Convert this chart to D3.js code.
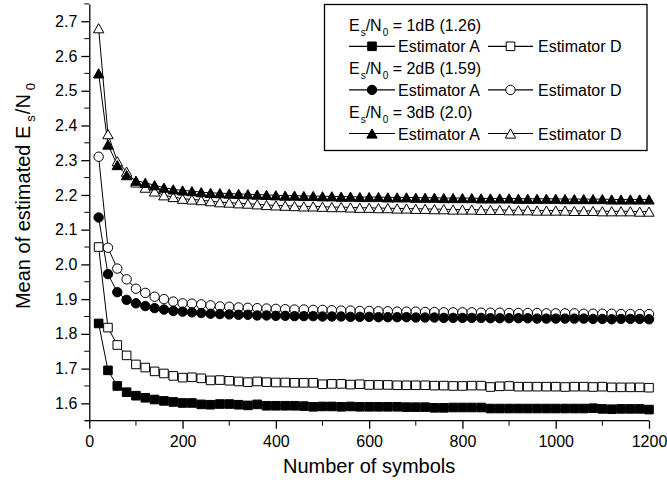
<!DOCTYPE html>
<html>
<head>
<meta charset="utf-8">
<script src="https://cdn.jsdelivr.net/npm/d3@7/dist/d3.min.js"></script>
<style>
  html, body { margin: 0; padding: 0; background: #fff; }
  svg { display: block; font-family: "Liberation Sans", Arial, sans-serif; }
</style>
</head>
<body>
<svg id="chart" width="667" height="492"></svg>
<script>
// ---- data ----
const symbols = [20,40,60,80,100,120,140,160,180,200,220,240,260,280,300,320,340,360,380,400,
  420,440,460,480,500,520,540,560,580,600,620,640,660,680,700,720,740,760,780,800,
  820,840,860,880,900,920,940,960,980,1000,1020,1040,1060,1080,1100,1120,1140,1160,1180,1200];

const estA_1dB = [1.830,1.695,1.650,1.632,1.622,1.616,1.611,1.607,1.604,1.601,
  1.601,1.597,1.596,1.598,1.598,1.596,1.594,1.597,1.593,1.593,
  1.593,1.593,1.592,1.590,1.591,1.591,1.590,1.591,1.590,1.590,
  1.590,1.590,1.590,1.589,1.589,1.589,1.587,1.587,1.588,1.588,
  1.588,1.588,1.585,1.585,1.585,1.585,1.585,1.585,1.585,1.585,
  1.585,1.585,1.585,1.586,1.584,1.583,1.584,1.584,1.584,1.582];
const estD_1dB = [2.050,1.818,1.768,1.738,1.712,1.703,1.692,1.686,1.679,1.674,
  1.675,1.672,1.666,1.667,1.665,1.663,1.661,1.663,1.661,1.660,
  1.660,1.659,1.659,1.659,1.655,1.656,1.656,1.654,1.655,1.653,
  1.653,1.653,1.652,1.652,1.652,1.652,1.651,1.651,1.650,1.650,
  1.651,1.651,1.647,1.649,1.650,1.648,1.648,1.648,1.648,1.648,
  1.647,1.648,1.648,1.647,1.648,1.646,1.646,1.646,1.646,1.645];
const estA_2dB = [2.135,1.972,1.920,1.898,1.888,1.880,1.874,1.870,1.866,1.864,
  1.862,1.860,1.858,1.857,1.856,1.855,1.855,1.853,1.853,1.852,
  1.852,1.851,1.851,1.851,1.850,1.850,1.850,1.849,1.849,1.849,
  1.848,1.848,1.848,1.848,1.847,1.847,1.847,1.846,1.846,1.846,
  1.846,1.846,1.845,1.845,1.845,1.845,1.845,1.844,1.844,1.844,
  1.844,1.844,1.844,1.843,1.843,1.842,1.843,1.843,1.843,1.842];
const estD_2dB = [2.310,2.048,1.988,1.957,1.930,1.918,1.907,1.900,1.893,1.888,
  1.887,1.885,1.882,1.879,1.878,1.876,1.875,1.874,1.873,1.872,
  1.871,1.870,1.870,1.869,1.869,1.868,1.867,1.867,1.866,1.866,
  1.865,1.865,1.864,1.864,1.864,1.863,1.863,1.862,1.862,1.862,
  1.862,1.861,1.861,1.861,1.860,1.860,1.860,1.860,1.859,1.859,
  1.859,1.859,1.858,1.858,1.858,1.858,1.857,1.857,1.857,1.857];
const estA_3dB = [2.550,2.345,2.286,2.257,2.241,2.235,2.228,2.221,2.216,2.213,
  2.211,2.208,2.206,2.205,2.204,2.203,2.202,2.201,2.200,2.199,
  2.198,2.198,2.197,2.197,2.196,2.196,2.195,2.195,2.194,2.194,
  2.194,2.193,2.193,2.193,2.192,2.192,2.192,2.191,2.191,2.191,
  2.191,2.190,2.190,2.190,2.190,2.189,2.189,2.189,2.189,2.189,
  2.188,2.188,2.188,2.188,2.188,2.187,2.187,2.187,2.187,2.187];
const estD_3dB = [2.680,2.375,2.297,2.267,2.236,2.221,2.210,2.199,2.194,2.189,
  2.187,2.185,2.182,2.179,2.178,2.176,2.175,2.173,2.171,2.170,
  2.169,2.168,2.167,2.167,2.166,2.165,2.165,2.164,2.163,2.163,
  2.162,2.162,2.161,2.161,2.160,2.160,2.159,2.159,2.158,2.158,
  2.158,2.157,2.157,2.157,2.156,2.156,2.156,2.155,2.155,2.155,
  2.155,2.154,2.154,2.154,2.153,2.153,2.153,2.153,2.152,2.152];

const xTicks = [0,200,400,600,800,1000,1200];
const xMinorTicks = [100,300,500,700,900,1100];
const yTicks = [1.6,1.7,1.8,1.9,2.0,2.1,2.2,2.3,2.4,2.5,2.6,2.7];
const yMinorTicks = [1.55,1.65,1.75,1.85,1.95,2.05,2.15,2.25,2.35,2.45,2.55,2.65,2.75];

const legendGroups = ["1dB (1.26)", "2dB (1.59)", "3dB (2.0)"];
const legendNames = ["Estimator A", "Estimator D"];

// ---- series table ----
const series = [
  {name:"D1", values: estD_1dB, shape:"square",   filled:false},
  {name:"A1", values: estA_1dB, shape:"square",   filled:true},
  {name:"D2", values: estD_2dB, shape:"circle",   filled:false},
  {name:"A2", values: estA_2dB, shape:"circle",   filled:true},
  {name:"D3", values: estD_3dB, shape:"triangle", filled:false},
  {name:"A3", values: estA_3dB, shape:"triangle", filled:true}
];

// ---- layout ----
const svg = d3.select("#chart");
const x = d3.scaleLinear().domain([0, 1200]).range([89.3, 649]);
const y = d3.scaleLinear().domain([1.55, 2.75]).range([420.7, 3.9]);

function markerPath(shape) {
  if (shape === "square") { const s = 4.3; return `M${-s},${-s}H${s}V${s}H${-s}Z`; }
  if (shape === "circle") { const r = 4.7; return `M${r},0A${r},${r} 0 1,1 ${-r},0A${r},${r} 0 1,1 ${r},0Z`; }
  const w = 5.2, h = 4.6; return `M0,${-h}L${w},${h}L${-w},${h}Z`;
}

// ---- axes ----
const axisFont = 16;
const gx = svg.append("g").attr("transform", `translate(0,${y(1.55)})`);
gx.call(d3.axisBottom(x).tickValues(xTicks).tickSize(8).tickPadding(7).tickSizeOuter(0).tickFormat(d3.format("d")));
gx.append("g").selectAll("line").data(xMinorTicks).join("line")
  .attr("x1", d => x(d)).attr("x2", d => x(d)).attr("y1", 0).attr("y2", 5)
  .attr("stroke", "#000");
const gy = svg.append("g").attr("transform", `translate(${x(0)},0)`);
gy.call(d3.axisLeft(y).tickValues(yTicks).tickSize(8).tickPadding(4).tickSizeOuter(0).tickFormat(d3.format(".1f")));
gy.append("g").selectAll("line").data(yMinorTicks).join("line")
  .attr("y1", d => y(d)).attr("y2", d => y(d)).attr("x1", 0).attr("x2", -5)
  .attr("stroke", "#000");
[gx, gy].forEach(g => {
  g.select(".domain").attr("stroke", "#000").attr("stroke-width", 1.3);
  g.selectAll(".tick line").attr("stroke", "#000").attr("stroke-width", 1.3);
  g.selectAll("text").attr("font-size", axisFont).attr("fill", "#000")
    .attr("font-family", '"Liberation Sans", Arial, sans-serif');
});
gx.select(".domain").attr("d", `M${x(0)-4},0H${x(1200)}`);

// ---- axis titles ----
svg.append("text").attr("x", (x(0) + x(1200)) / 2).attr("y", 473)
  .attr("text-anchor", "middle").attr("font-size", 20).text("Number of symbols");

const yt = svg.append("text").attr("transform", "translate(30,196) rotate(-90)")
  .attr("text-anchor", "middle").attr("font-size", 20);
yt.append("tspan").text("Mean of estimated E");
yt.append("tspan").attr("font-size", 13).attr("dy", 5).attr("dx", 4).text("s");
yt.append("tspan").attr("dy", -5).attr("dx", 1).text("/N");
yt.append("tspan").attr("font-size", 13).attr("dy", 5).attr("dx", 4).text("0");

// ---- series ----
const line = d3.line().x((d, i) => x(symbols[i])).y(d => y(d));
const plot = svg.append("g");
series.forEach(s => {
  plot.append("path").datum(s.values).attr("d", line)
    .attr("fill", "none").attr("stroke", "#000").attr("stroke-width", 1);
});
series.forEach(s => {
  plot.append("g").selectAll("path").data(s.values).join("path")
    .attr("d", markerPath(s.shape))
    .attr("transform", (d, i) => `translate(${x(symbols[i])},${y(d)})`)
    .attr("fill", s.filled ? "#000" : "#fff")
    .attr("stroke", "#000").attr("stroke-width", 1);
});

// ---- legend ----
const lg = svg.append("g");
lg.append("rect").attr("x", 324.5).attr("y", 4.5).attr("width", 322.5).attr("height", 146)
  .attr("fill", "#fff").attr("stroke", "#000").attr("stroke-width", 1.3);
const shapes = ["square", "circle", "triangle"];
const legFont = 16;
legendGroups.forEach((g, k) => {
  const b1 = 30.5 + (2 * k) * 21.8;
  const b2 = 30.5 + (2 * k + 1) * 21.8;
  const t = lg.append("text").attr("x", 349).attr("y", b1).attr("font-size", legFont);
  t.append("tspan").text("E");
  t.append("tspan").attr("font-size", 10).attr("dy", 5).attr("dx", 1).text("s");
  t.append("tspan").attr("dy", -5).text("/N");
  t.append("tspan").attr("font-size", 10).attr("dy", 5).attr("dx", 1).text("0");
  t.append("tspan").attr("dy", -5).text(" = " + g);
  const cy = b2 - 6;
  [[349, 395, 372, 398, true], [488, 533, 510.5, 538, false]].forEach(([x1, x2, mx, tx, filled], j) => {
    lg.append("line").attr("x1", x1).attr("x2", x2).attr("y1", cy).attr("y2", cy)
      .attr("stroke", "#000").attr("stroke-width", 1.2);
    lg.append("path").attr("d", markerPath(shapes[k]))
      .attr("transform", `translate(${mx},${cy})`)
      .attr("fill", filled ? "#000" : "#fff").attr("stroke", "#000");
    lg.append("text").attr("x", tx).attr("y", b2).attr("font-size", legFont).text(legendNames[j]);
  });
});
</script>
</body>
</html>
